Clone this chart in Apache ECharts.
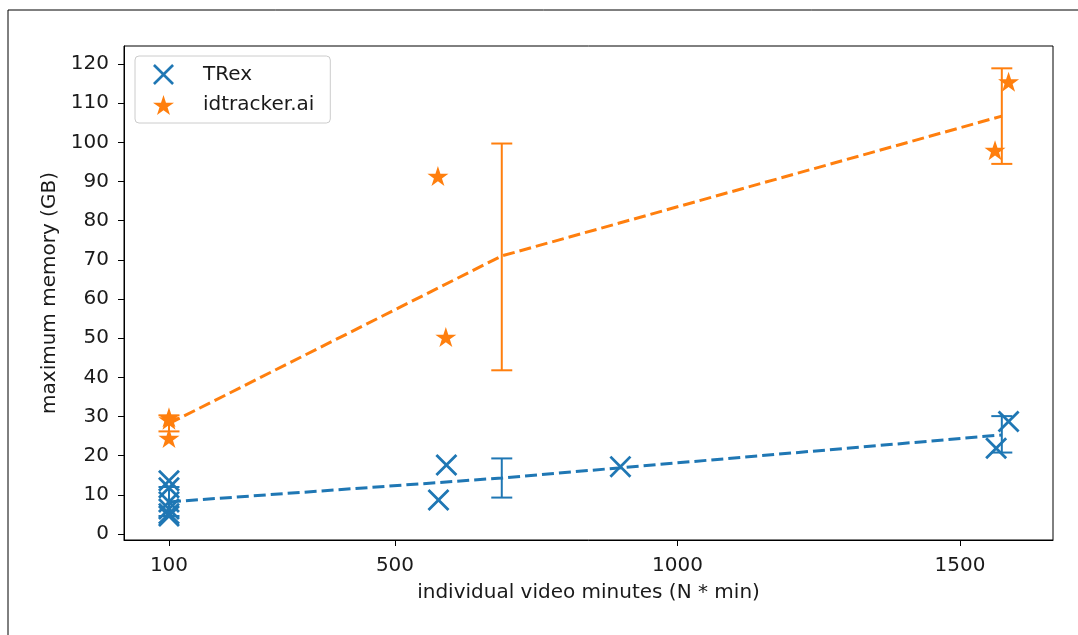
<!DOCTYPE html>
<html>
<head>
<meta charset="utf-8">
<script src="https://cdn.jsdelivr.net/npm/echarts@6/dist/echarts.min.js"></script>
<style>
html,body{margin:0;padding:0;background:#fff;}
#chart{width:1078px;height:635px;}
</style>
</head>
<body>
<div id="chart"></div>
<script>
// ---- data ----
const xTicks = [100, 500, 1000, 1500];
const yTicks = [0, 10, 20, 30, 40, 50, 60, 70, 80, 90, 100, 110, 120];

// individual runs: [minutes, memory GB]
const trexPoints = [
  [100, 13.6], [100, 11.8], [100, 8.2], [100, 6.4], [100, 5.2], [100, 4.6],
  [577, 8.7], [591, 17.6], [899, 17.2],
  [1564, 21.9], [1586, 28.7]
];
const idtrackerPoints = [
  [100, 29.8], [100, 29.2], [100, 24.5],
  [576, 91.4], [590, 50.3],
  [1562, 98.0], [1586, 115.5]
];

// group means (dashed lines)
const trexMean = [[100, 8.2], [689, 14.3], [1574, 25.3]];
const idtrackerMean = [[100, 28.2], [689, 71.0], [1574, 106.7]];

// error bars: [x, low, high]
const trexErr = [[100, 4.6, 12.0], [689, 9.3, 19.3], [1574, 20.8, 30.1]];
const idtrackerErr = [[100, 26.2, 30.3], [689, 41.8, 99.7], [1574, 94.5, 118.9]];

const BLUE = '#1f77b4';
const ORANGE = '#ff7f0e';
const FONT = 'DejaVu Sans';
const TXT = '#1a1a1a';
const FS = 20;

const xPath = 'path://M0 9 L9 0 L50 41 L91 0 L100 9 L59 50 L100 91 L91 100 L50 59 L9 100 L0 91 L41 50 Z';
const starPath = 'path://M50 0 L61.23 34.55 L97.55 34.55 L68.17 55.9 L79.39 90.45 L50 69.1 L20.61 90.45 L31.83 55.9 L2.45 34.55 L38.77 34.55 Z';

function errRenderer(color) {
  return function (params, api) {
    const x = api.value(0), lo = api.value(1), hi = api.value(2);
    const p1 = api.coord([x, lo]);
    const p2 = api.coord([x, hi]);
    const hw = 10.5;
    const st = { stroke: color, lineWidth: 2 };
    return {
      type: 'group',
      children: [
        { type: 'line', shape: { x1: p1[0], y1: p1[1], x2: p2[0], y2: p2[1] }, style: st },
        { type: 'line', shape: { x1: p1[0] - hw, y1: p1[1], x2: p1[0] + hw, y2: p1[1] }, style: st },
        { type: 'line', shape: { x1: p2[0] - hw, y1: p2[1], x2: p2[0] + hw, y2: p2[1] }, style: st }
      ]
    };
  };
}

const chart = echarts.init(document.getElementById('chart'), null, { renderer: 'canvas' });
chart.setOption({
  animation: false,
  backgroundColor: '#ffffff',
  textStyle: { fontFamily: FONT },
  graphic: [{
    type: 'rect',
    shape: { x: 8, y: 10, width: 1200, height: 800 },
    style: { fill: 'none', stroke: '#000', lineWidth: 1 },
    silent: true
  }],
  grid: {
    left: 124, top: 46, right: 25, bottom: 95,
    show: true, borderColor: '#000', borderWidth: 1, backgroundColor: 'transparent'
  },
  legend: {
    data: ['TRex', 'idtracker.ai'],
    orient: 'vertical',
    left: 135, top: 56,
    padding: [8, 16, 8, 18],
    itemWidth: 21, itemHeight: 21, itemGap: 10,
    backgroundColor: '#fff',
    borderColor: '#cccccc', borderWidth: 1, borderRadius: 4,
    textStyle: { fontFamily: FONT, fontSize: FS, color: TXT, padding: [0, 0, 0, 24] }
  },
  xAxis: {
    type: 'value',
    min: 20.4, max: 1664.6,
    name: 'individual video minutes (N * min)',
    nameLocation: 'middle', nameGap: 43,
    nameTextStyle: { fontFamily: FONT, fontSize: FS, color: TXT },
    splitLine: { show: false },
    axisLine: { show: true, onZero: false, lineStyle: { color: '#000', width: 1 } },
    axisTick: { show: true, length: 6, lineStyle: { color: '#000' }, customValues: xTicks },
    axisLabel: {
      fontFamily: FONT, fontSize: FS, color: TXT, margin: 16, customValues: xTicks,
      formatter: function (v) { return String(v); }
    }
  },
  yAxis: {
    type: 'value',
    min: -1.53, max: 124.6,
    name: 'maximum memory (GB)',
    nameLocation: 'middle', nameGap: 64,
    nameTextStyle: { fontFamily: FONT, fontSize: FS, color: TXT },
    splitLine: { show: false },
    axisLine: { show: true, onZero: false, lineStyle: { color: '#000', width: 1 } },
    axisTick: { show: true, length: 6, lineStyle: { color: '#000' }, customValues: yTicks },
    axisLabel: {
      fontFamily: FONT, fontSize: FS, color: TXT, margin: 15, customValues: yTicks,
      formatter: function (v) { return String(v); }
    }
  },
  series: [
    {
      name: 'TRex err', type: 'custom', renderItem: errRenderer(BLUE),
      data: trexErr, encode: { x: 0, y: [1, 2] }, z: 2, silent: true
    },
    {
      name: 'idtracker err', type: 'custom', renderItem: errRenderer(ORANGE),
      data: idtrackerErr, encode: { x: 0, y: [1, 2] }, z: 2, silent: true
    },
    {
      name: 'TRex mean', type: 'line', data: trexMean, symbol: 'none', z: 3,
      lineStyle: { color: BLUE, width: 3, type: [12, 5] }, itemStyle: { color: BLUE }
    },
    {
      name: 'idtracker mean', type: 'line', data: idtrackerMean, symbol: 'none', z: 3,
      lineStyle: { color: ORANGE, width: 3, type: [12, 5] }, itemStyle: { color: ORANGE }
    },
    {
      name: 'TRex', type: 'scatter', data: trexPoints, symbol: xPath, symbolSize: 22, z: 4,
      itemStyle: { color: BLUE, opacity: 1 }
    },
    {
      name: 'idtracker.ai', type: 'scatter', data: idtrackerPoints, symbol: starPath, symbolSize: [21, 20], z: 4,
      itemStyle: { color: ORANGE, opacity: 1 }
    }
  ]
});
</script>
</body>
</html>
